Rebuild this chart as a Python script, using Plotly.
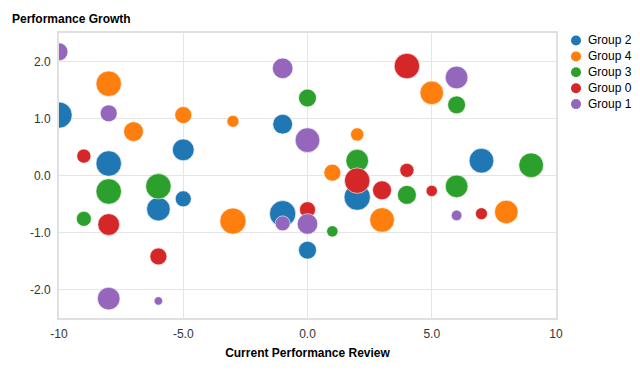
import plotly.graph_objects as go

group_names = ["Group 2", "Group 4", "Group 3", "Group 0", "Group 1"]
group_colors = ["#1f77b4", "#ff7f0e", "#2ca02c", "#d62728", "#9467bd"]

# Group 2
g2_x = [-10, -8, -5, -1, -5, -6, -1, 0, 2, 7]
g2_y = [1.06, 0.21, 0.45, 0.90, -0.41, -0.59, -0.67, -1.31, -0.38, 0.26]
g2_s = [86, 81, 59, 49, 32, 69, 86, 40, 86, 76]
# Group 4
g4_x = [-8, -5, -3, -7, 5, 2, 1, -3, 3, 8]
g4_y = [1.61, 1.06, 0.95, 0.77, 1.45, 0.72, 0.05, -0.80, -0.78, -0.64]
g4_s = [81, 36, 18, 49, 69, 22, 36, 86, 76, 69]
# Group 3
g3_x = [0, -8, -6, 6, 2, 9, 4, 6, -9, 1]
g3_y = [1.36, -0.28, -0.19, 1.24, 0.26, 0.18, -0.34, -0.19, -0.76, -0.98]
g3_s = [40, 81, 81, 40, 64, 76, 45, 64, 28, 16]
# Group 0
g0_x = [-9, 4, 4, 2, 3, 5, -8, 0, -6, 7]
g0_y = [0.34, 1.92, 0.09, -0.09, -0.26, -0.27, -0.86, -0.60, -1.42, -0.67]
g0_s = [25, 81, 25, 81, 45, 16, 59, 32, 36, 18]
# Group 1
g1_x = [-10, -8, -1, 0, 6, -1, 0, -8, -6, 6]
g1_y = [2.17, 1.09, 1.88, 0.62, 1.72, -0.84, -0.85, -2.16, -2.20, -0.70]
g1_s = [40, 36, 53, 76, 64, 28, 53, 64, 9, 14]

series = [(g2_x, g2_y, g2_s), (g4_x, g4_y, g4_s), (g3_x, g3_y, g3_s),
          (g0_x, g0_y, g0_s), (g1_x, g1_y, g1_s)]

x_tickvals = [-10, -5, 0, 5, 10]
x_ticktext = ["-10", "-5.0", "0.0", "5.0", "10"]
y_tickvals = [-2, -1, 0, 1, 2]
y_ticktext = ["-2.0", "-1.0", "0.0", "1.0", "2.0"]

# The page body has an 8px margin, so the figure is made 8px smaller and
# all window-pixel targets are offset by that amount.
OFF = 8
W, H = 640 - OFF, 384 - OFF
ML, MR, MT, MB = 59 - OFF, 84, 33 - OFF, 66
PW, PH = W - ML - MR, H - MT - MB


def px_to_paper_x(px):
    return (px - OFF - ML) / PW


def px_to_paper_y(py):
    return (H - MB - (py - OFF)) / PH


fig = go.Figure()
for name, color, (xs, ys, ss) in zip(group_names, group_colors, series):
    fig.add_trace(go.Scatter(
        x=xs, y=ys, mode="markers", name=name, showlegend=False,
        marker=dict(size=ss, sizemode="area", sizeref=0.25, color=color,
                    opacity=1, line=dict(color="rgba(255,255,255,0.6)", width=1)),
    ))

font_family = "Liberation Sans, Arial, sans-serif"

# custom legend (tighter row spacing than Plotly's built-in legend allows)
shapes = []
annotations = []
for i, (name, color) in enumerate(zip(group_names, group_colors)):
    cy = 40.5 + i * 15.9
    shapes.append(dict(type="circle", xref="paper", yref="paper",
                       xsizemode="pixel", ysizemode="pixel",
                       xanchor=px_to_paper_x(576), yanchor=px_to_paper_y(cy),
                       x0=-5, x1=5, y0=-5, y1=5,
                       fillcolor=color, line=dict(color=color, width=0)))
    annotations.append(dict(text=name, xref="paper", yref="paper",
                            x=px_to_paper_x(586), y=px_to_paper_y(cy),
                            xanchor="left", yanchor="middle", showarrow=False,
                            font=dict(size=12, color="#000", family=font_family)))

annotations.append(dict(text="<b>Performance Growth</b>", xref="paper", yref="paper",
                        x=px_to_paper_x(10), y=px_to_paper_y(19),
                        xanchor="left", yanchor="middle", showarrow=False,
                        font=dict(size=12, color="#000", family=font_family)))

fig.update_layout(
    width=W, height=H,
    margin=dict(l=ML, r=MR, t=MT, b=MB),
    paper_bgcolor="white", plot_bgcolor="white",
    font=dict(family=font_family, size=12, color="#333"),
    showlegend=False,
    shapes=shapes,
    annotations=annotations,
    xaxis=dict(range=[-10, 10], tickvals=x_tickvals, ticktext=x_ticktext,
               showgrid=True, gridcolor="#e5e5e5", gridwidth=1, zeroline=False,
               showline=True, linecolor="#e0e0e0", linewidth=2, mirror=True,
               ticks="", ticklabelstandoff=4, tickfont=dict(color="#333", size=12),
               title=dict(text="<b>Current Performance Review</b>", standoff=8,
                          font=dict(size=12, color="#000"))),
    yaxis=dict(range=[-2.5, 2.5], tickvals=y_tickvals, ticktext=y_ticktext,
               showgrid=True, gridcolor="#e5e5e5", gridwidth=1, zeroline=False,
               showline=True, linecolor="#e0e0e0", linewidth=2, mirror=True,
               ticks="", ticklabelstandoff=4, tickfont=dict(color="#333", size=12)),
)

fig.write_html("out.html")
